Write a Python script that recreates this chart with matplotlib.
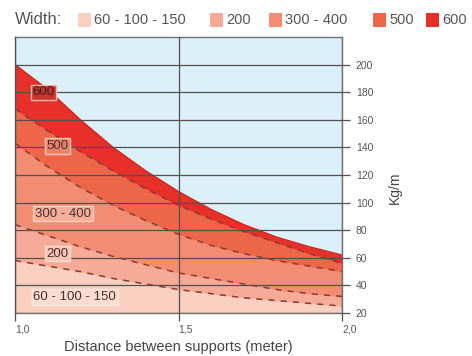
import matplotlib.pyplot as plt
import numpy as np

# distanza tra i supporti (m)
distanza = [1.0, 1.1, 1.2, 1.3, 1.4, 1.5, 1.6, 1.7, 1.8, 1.9, 2.0]
# carico ammissibile (kg/m) per larghezza
carico_600 = [200, 182, 160, 140, 123, 108, 95, 84, 75, 68, 62]
carico_500 = [168, 152, 137, 123, 110, 98, 88, 79, 71, 63, 56]
carico_400 = [143, 126, 111, 98, 87, 77, 69, 63, 58, 54, 50]
carico_200 = [84, 76, 68, 61, 55, 49, 45, 41, 37, 34, 32]
carico_150 = [58, 54, 50, 45, 41, 37, 34, 31, 29, 27, 25]

etichette = ['60 - 100 - 150', '200', '300 - 400', '500', '600']
colori = ['#f9d0c0', '#f5ab98', '#f28c72', '#ee664a', '#e8302a']
y_ticks = [20, 40, 60, 80, 100, 120, 140, 160, 180, 200]
x_ticks = [1.0, 1.5, 2.0]
x_labels = ['1,0', '1,5', '2,0']

plt.rcParams['font.family'] = ['Liberation Sans', 'DejaVu Sans']

fig = plt.figure(figsize=(4.72, 3.56), dpi=100)
ax = fig.add_axes([15 / 472, 43 / 356, 327 / 472, 276 / 356])
ax.set_facecolor('#dcf0fa')

curve = [carico_150, carico_200, carico_400, carico_500, carico_600]
x = np.array(distanza)
# riempimenti dall'alto verso il basso
for c, col in zip(curve[::-1], colori[::-1]):
    ax.fill_between(x, 20, c, color=col, lw=0, zorder=1)
ax.plot(x, carico_600, color='#c8281f', lw=1.0, zorder=2)
for c in curve[:-1]:
    ax.plot(x, c, color='#8a3a30', lw=1.1, ls=(0, (4, 4)), zorder=3)

ax.set_xlim(1.0, 2.0)
ax.set_ylim(20, 220)
ax.set_yticks(y_ticks)
ax.set_xticks(x_ticks)
ax.set_xticklabels(x_labels, ha='left')
ax.yaxis.tick_right()
ax.grid(True, color='#505050', lw=0.9, zorder=2.5)
ax.set_axisbelow(False)
for s in ax.spines.values():
    s.set_color('#707070')
    s.set_linewidth(1.0)
ax.tick_params(axis='y', length=6, width=0.9, color='#505050', labelsize=7.5,
               labelcolor='#555555', pad=4)
ax.tick_params(axis='x', length=6, width=0.9, color='#505050', labelsize=7.5,
               labelcolor='#555555', pad=2)
ax.set_xlabel('Distance between supports (meter)', fontsize=10.5, color='#444444')
ax.xaxis.set_label_coords(163 / 327, -(340 - 313) / 276)
fig.text(395 / 472, 1 - 188 / 356, 'Kg/m', rotation=90, fontsize=10, color='#444444',
         ha='center', va='center')

# etichette delle fasce
box = dict(boxstyle='square,pad=0.12', lw=1.0)
ax.text(1.087, 180, '600', ha='center', va='center', fontsize=9.5, color='#3a2020', zorder=5,
        bbox=dict(box, fc='#c8352c', ec='#f3b8a8'))
ax.text(1.131, 141, '500', ha='center', va='center', fontsize=9.5, color='#4a3030', zorder=5,
        bbox=dict(box, fc='#f08068', ec='#f8c8b8'))
ax.text(1.147, 92, '300 - 400', ha='center', va='center', fontsize=9.5, color='#4a3030', zorder=5,
        bbox=dict(box, fc='#f6ae98', ec='#fad0c0'))
ax.text(1.13, 63, '200', ha='center', va='center', fontsize=9.5, color='#4a3030', zorder=5,
        bbox=dict(box, fc='#f8c4b4', ec='#fbdcd0'))
ax.text(1.183, 31.6, '60 - 100 - 150', ha='center', va='center', fontsize=9.5, color='#4a3030', zorder=5,
        bbox=dict(box, fc='#fbdcd0', ec='#fde8e0'))

# legenda in alto
fig.text(15 / 472, 1 - 20 / 356, 'Width:', fontsize=12, color='#555555', va='center')
leg_x = [78, 210, 269, 373, 426]
for lx, lab, col in zip(leg_x, etichette, colori):
    fig.patches.append(plt.Rectangle((lx / 472, 1 - 27 / 356), 13 / 472, 14 / 356,
                                     transform=fig.transFigure, fc=col, ec='none'))
    fig.text((lx + 16) / 472, 1 - 20 / 356, lab, fontsize=10.5, color='#555555', va='center')

fig.savefig('out.png', dpi=100)
